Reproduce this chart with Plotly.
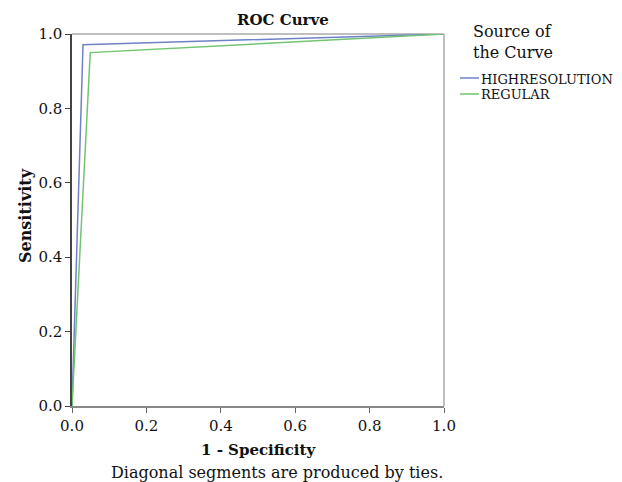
import plotly.graph_objects as go

hr_x = [0.0, 0.0296, 1.0]
hr_y = [0.0, 0.971, 1.0]
reg_x = [0.0, 0.049, 1.0]
reg_y = [0.0, 0.950, 1.0]
series_names = ["HIGHRESOLUTION", "REGULAR"]
series_colors = ["#6f82c8", "#72c472"]
tick_vals = [0.0, 0.2, 0.4, 0.6, 0.8, 1.0]
tick_text = ["0.0", "0.2", "0.4", "0.6", "0.8", "1.0"]

FONT = "DejaVu Serif"
L, R, T, B = 72, 444, 34, 406
PW, PH = R - L, B - T


def px_x(px):
    return (px - L) / PW


def px_y(py):
    return (B - py) / PH


fig = go.Figure()
fig.add_trace(go.Scatter(x=hr_x, y=hr_y, mode="lines", name=series_names[0],
                         line=dict(color=series_colors[0], width=1.5), showlegend=False))
fig.add_trace(go.Scatter(x=reg_x, y=reg_y, mode="lines", name=series_names[1],
                         line=dict(color=series_colors[1], width=1.5), showlegend=False))

fig.update_layout(
    width=622, height=482,
    margin=dict(l=L, r=622 - R, t=T, b=482 - B, autoexpand=False),
    plot_bgcolor="white", paper_bgcolor="white",
    font=dict(family=FONT, size=15, color="#111"),
    showlegend=False,
)
fig.update_xaxes(range=[0, 1], tickvals=tick_vals, ticktext=tick_text,
                 showgrid=False, zeroline=False, ticks="outside", ticklen=5,
                 tickcolor="#666", showline=True, linecolor="#888", linewidth=1.5,
                 tickfont=dict(size=15))
fig.update_yaxes(range=[0, 1], tickvals=tick_vals, ticktext=tick_text,
                 showgrid=False, zeroline=False, ticks="outside", ticklen=5,
                 tickcolor="#444", showline=True, linecolor="#444", linewidth=1.5,
                 tickfont=dict(size=15))
# top & right light frame
fig.add_shape(type="line", xref="paper", yref="paper", x0=0, x1=1, y0=1, y1=1,
              line=dict(color="#aaa", width=1.5), layer="below")
fig.add_shape(type="line", xref="paper", yref="paper", x0=1, x1=1, y0=0, y1=1,
              line=dict(color="#aaa", width=1.5), layer="below")

# titles
fig.add_annotation(text="<b>ROC Curve</b>", xref="paper", yref="paper", x=px_x(283), y=px_y(20),
                   xanchor="center", yanchor="middle", showarrow=False, font=dict(size=15))
fig.add_annotation(text="<b>1 - Specificity</b>", xref="paper", yref="paper", x=px_x(258), y=px_y(450),
                   xanchor="center", yanchor="middle", showarrow=False, font=dict(size=15))
fig.add_annotation(text="<b>Sensitivity</b>", xref="paper", yref="paper", x=px_x(25), y=px_y(216),
                   xanchor="center", yanchor="middle", textangle=-90, showarrow=False, font=dict(size=16))
fig.add_annotation(text="Diagonal segments are produced by ties.", xref="paper", yref="paper",
                   x=px_x(277), y=px_y(472), xanchor="center", yanchor="middle", showarrow=False,
                   font=dict(size=16))

# legend (drawn manually)
fig.add_annotation(text="Source of<br>the Curve", xref="paper", yref="paper", x=px_x(471), y=px_y(20),
                   xanchor="left", yanchor="top", align="left", showarrow=False, font=dict(size=16))
item_y = [78, 94]
for name, color, yy in zip(series_names, series_colors, item_y):
    fig.add_shape(type="line", xref="paper", yref="paper", x0=px_x(460), x1=px_x(479),
                  y0=px_y(yy), y1=px_y(yy), line=dict(color=color, width=1.5))
    fig.add_annotation(text=name, xref="paper", yref="paper", x=px_x(479), y=px_y(yy + 1),
                       xanchor="left", yanchor="middle", showarrow=False, font=dict(size=13))

fig.write_html("out.html", config={"displayModeBar": False},
               post_script="document.body.style.margin='0';")
